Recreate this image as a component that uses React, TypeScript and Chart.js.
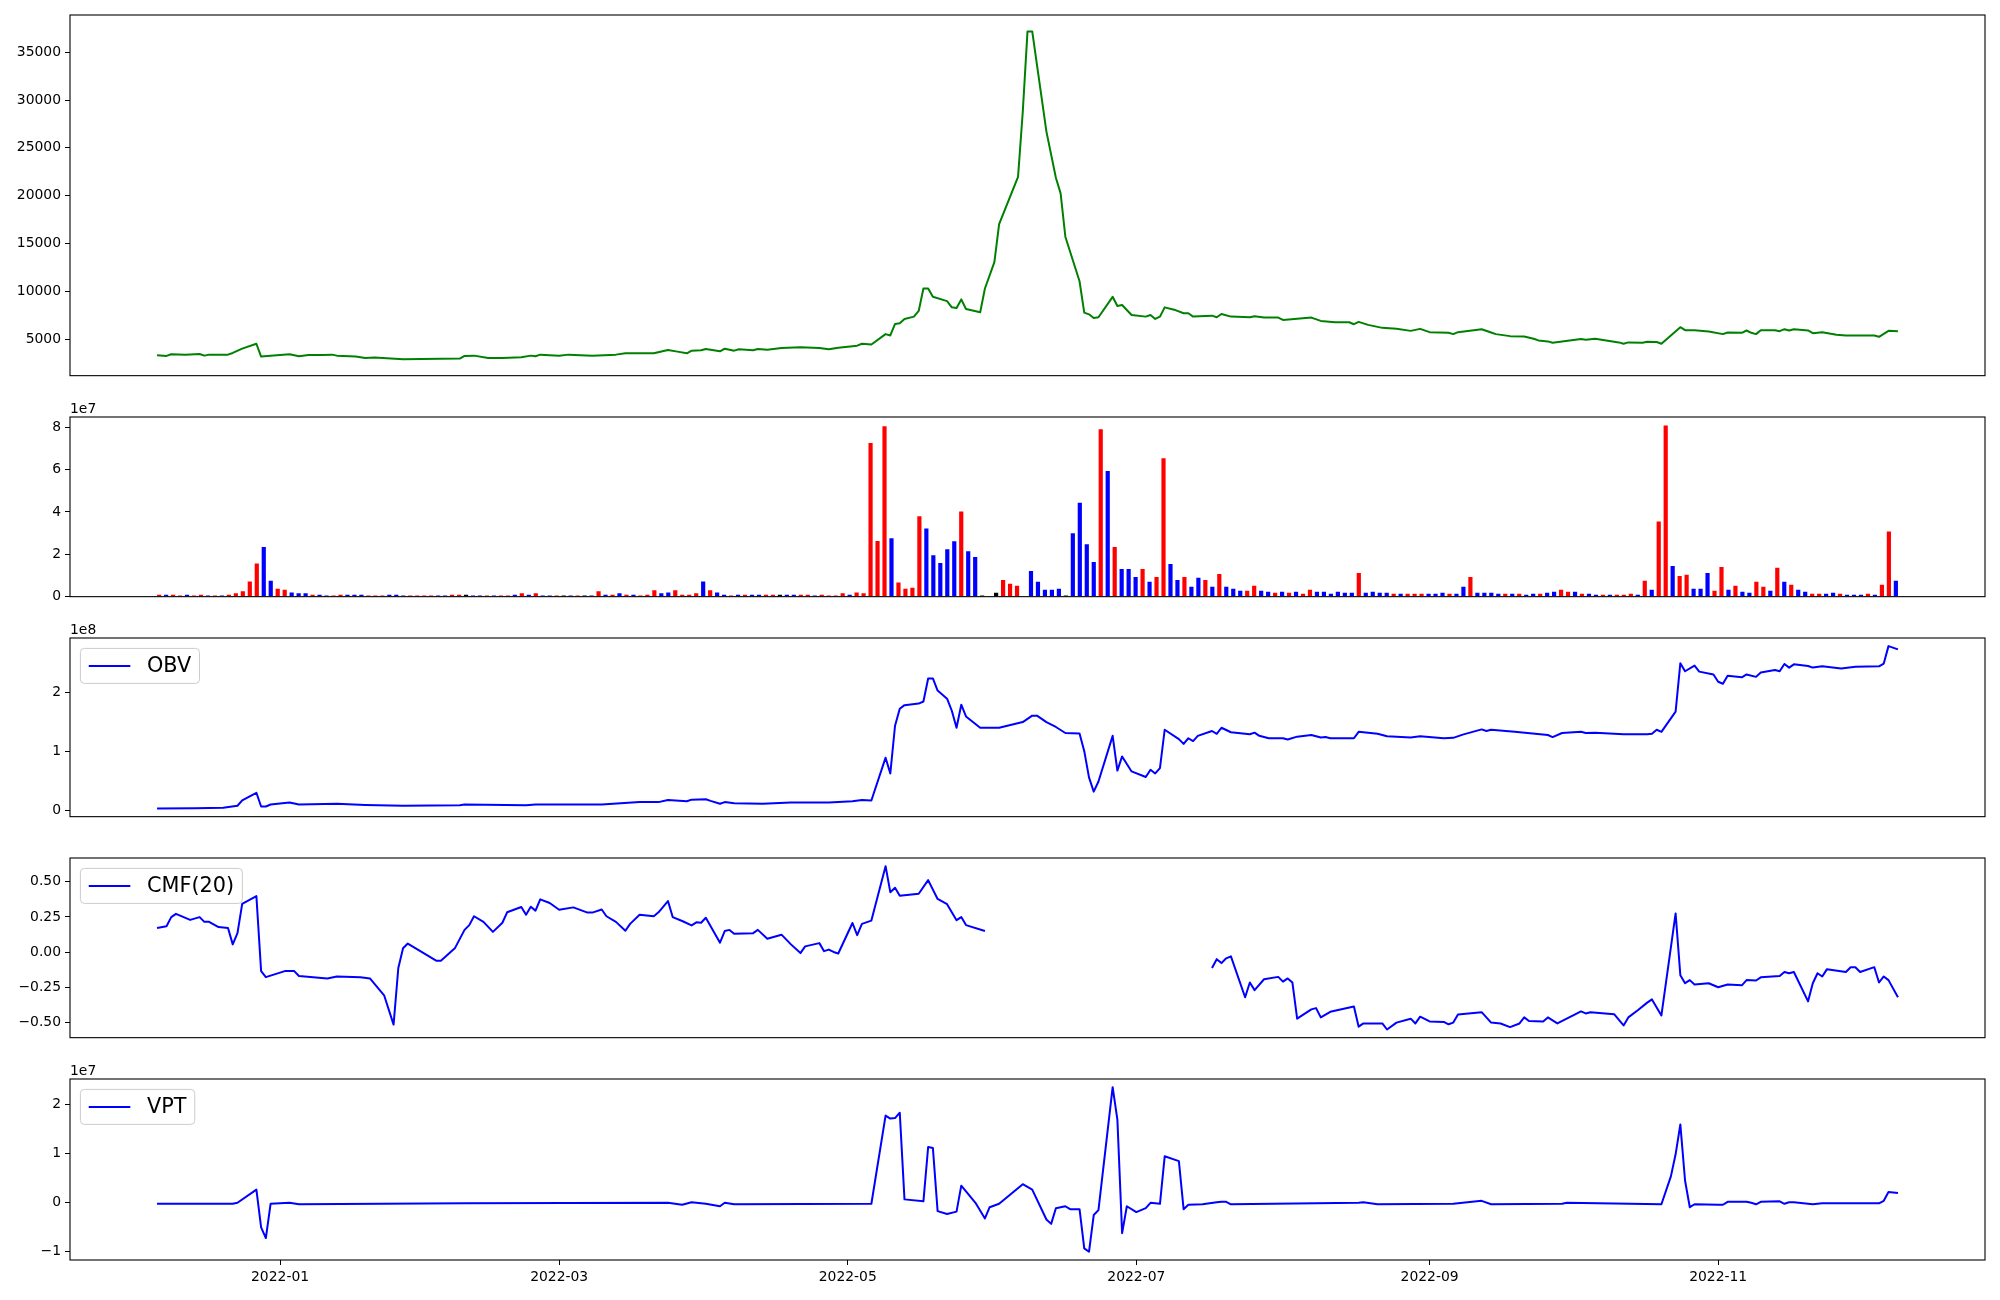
import React, { useEffect, useRef } from 'react';
import { Chart, registerables } from 'chart.js';

Chart.register(...registerables);

// ---------------- data ----------------
// x values of the line panels: days counted from 2022-01-01
const priceDay = [-26,-24,-23,-20,-17,-16,-15,-11,-10,-8,-5,-4,2,4,6,9,11,12,16,18,20,26,38,39,41,44,47,51,53,54,55,59,61,66,71,73,79,82,84,86,87,89,90,93,94,96,97,100,101,103,106,110,114,116,118,122,123,125,128,129,130,131,132,134,135,136,137,138,141,142,143,144,145,148,149,151,152,156,157,158,159,162,164,165,166,169,170,171,172,173,176,177,178,180,183,184,185,186,187,189,191,192,193,197,198,199,201,205,206,208,211,212,218,220,223,226,227,228,230,233,236,239,241,243,247,248,249,254,256,257,260,263,265,266,268,269,275,276,278,282,283,284,285,288,289,291,292,296,297,299,302,305,306,309,310,311,312,313,316,317,318,319,320,323,324,326,329,331,337,338,340,342];
const priceClose = [3310,3240,3410,3375,3445,3270,3375,3375,3550,4000,4515,3170,3410,3200,3340,3340,3375,3270,3170,3030,3065,2890,2960,3240,3270,3030,3030,3100,3270,3200,3375,3270,3375,3270,3375,3515,3515,3860,3690,3515,3790,3825,3960,3720,4000,3790,3930,3825,3960,3895,4065,4135,4065,3930,4100,4310,4515,4440,5520,5380,6590,6660,7110,7350,7940,10290,10290,9420,8975,8320,8250,9150,8145,7800,10290,13050,17030,21970,28780,37180,37180,26700,21870,20240,15710,11050,7765,7590,7210,7280,9420,8455,8560,7520,7350,7520,7110,7350,8320,8075,7700,7700,7350,7450,7280,7630,7350,7280,7380,7250,7250,7000,7250,6900,6760,6760,6555,6800,6485,6175,6070,5860,6070,5725,5655,5520,5725,6035,5690,5520,5310,5275,5035,4860,4760,4620,5000,4930,5035,4725,4655,4515,4655,4620,4725,4690,4515,6245,5935,5935,5795,5520,5690,5655,5900,5655,5520,5935,5935,5830,6035,5900,6035,5900,5620,5725,5450,5380,5380,5240,5865,5830];

// daily volume (millions), one bar per trading session
const volumeMillions = [
0.9,0.9,0.9,0.5,0.9,0.5,0.9,0.5,0.5,0.5,
0.9,1.6,2.5,7.2,15.6,23.5,7.5,3.7,3.3,2.0,
1.6,1.6,0.9,0.9,0.5,0.5,0.9,0.9,0.9,0.9,
0.5,0.5,0.5,0.9,0.9,0.5,0.5,0.5,0.5,0.5,
0.5,0.5,0.9,0.9,0.9,0.5,0.5,0.5,0.5,0.5,
0.5,0.9,1.6,0.9,1.6,0.5,0.5,0.5,0.5,0.5,
0.5,0.5,0.5,2.5,0.9,0.9,1.6,0.9,0.9,0.5,
0.9,3.0,1.6,2.0,3.0,0.9,0.9,1.6,7.2,3.0,
2.0,0.9,0.5,0.9,0.9,0.9,0.9,0.9,0.9,0.9,
0.9,0.9,0.9,0.9,0.5,0.9,0.5,0.5,1.6,0.9,
2.0,1.6,72.6,26.3,80.5,27.6,6.7,3.7,4.2,38.0,
32.2,19.6,15.9,22.4,26.2,40.2,21.5,18.7,0.5,0,
1.9,7.9,6.1,5.1,0,12.1,7.0,3.3,3.3,3.7,
0.5,29.9,44.4,24.8,16.4,79.0,59.3,23.4,13.1,13.1,
9.3,13.1,7.0,9.3,65.4,15.4,7.9,9.3,4.7,8.9,
7.9,4.7,10.7,4.7,3.7,2.8,2.8,5.1,2.8,2.3,
1.9,2.3,1.9,2.3,1.4,3.3,2.3,2.3,1.4,2.3,
1.9,1.9,11.2,1.9,2.3,1.9,1.9,1.4,1.4,1.4,
1.4,1.4,1.4,1.4,1.9,1.4,1.4,4.7,9.3,1.9,
1.9,1.9,1.4,1.4,1.4,1.4,0.9,1.4,1.4,1.9,
2.3,3.3,2.3,2.3,1.4,1.4,0.9,0.9,0.9,0.9,
0.9,1.4,0.9,7.5,3.3,35.5,80.8,14.5,9.8,10.3,
3.7,3.7,11.2,2.8,14.0,3.3,5.1,2.3,1.9,7.0,
4.7,2.8,13.6,7.0,5.6,3.3,2.3,1.4,1.4,1.4,
1.9,1.4,0.9,0.9,0.9,1.4,0.9,5.6,30.8,7.5];
// r = up day, b = down day, k = unchanged
const volumeDirection = (
  'rbrrbrrbrb' + 'rrrrrbbrrb' + 'bbrbbrrbbb' + 'rrrbbbrrrr' + 'bbrrkbbrbr' +
  'rbrbrbbrkb' + 'rkbrbrbrbr' + 'rrbbrrrrbr' + 'bbrbrbbrrk' + 'bbrrbrrrrb' +
  'rrrrrbrrrr' + 'bbbbbrbbkk' + 'krrrkbbbbb' + 'kbbbbrbrbb' + 'brbrrbbrbb' +
  'rbrbbbrrbb' + 'rbrbrrbbbb' + 'bbrbbbbrbr' + 'rrbbbrbbrb' + 'bbbrbrbbrb' +
  'brrbrbbrbr' + 'rrbrbrrbrr' + 'bbbrrbrbbr' + 'rbrbrbbrrb' + 'brbbbrbrrb'
).split('');

// On-balance volume (x 1e8)
const obvDay = [-26,-18,-12,-9,-8,-5,-4,-3,-2,2,4,12,18,26,38,39,52,54,68,72,76,80,82,86,87,90,91,93,94,96,102,108,116,121,123,125,128,129,130,131,132,135,136,137,138,139,141,142,143,144,145,148,152,157,159,160,162,164,166,169,170,171,172,173,176,177,178,180,183,184,185,186,187,190,191,192,193,194,197,198,199,201,205,206,207,209,212,213,215,218,220,221,222,227,228,232,234,239,241,246,248,250,254,255,256,261,268,269,271,275,276,278,284,289,290,291,292,295,296,297,299,300,303,304,305,306,309,310,312,313,316,317,318,319,320,323,324,326,330,333,338,339,340,342];
const obvValue = [0.037,0.044,0.051,0.085,0.174,0.304,0.071,0.071,0.105,0.140,0.105,0.119,0.099,0.085,0.092,0.105,0.092,0.105,0.105,0.126,0.146,0.146,0.181,0.160,0.188,0.194,0.167,0.119,0.146,0.126,0.119,0.140,0.140,0.160,0.181,0.174,0.899,0.632,1.440,1.727,1.789,1.816,1.850,2.241,2.241,2.036,1.899,1.694,1.406,1.796,1.597,1.406,1.406,1.502,1.611,1.611,1.502,1.419,1.317,1.310,1.009,0.564,0.324,0.495,1.269,0.680,0.920,0.666,0.571,0.694,0.632,0.721,1.372,1.214,1.132,1.228,1.180,1.269,1.351,1.303,1.406,1.330,1.296,1.323,1.269,1.228,1.228,1.207,1.255,1.283,1.241,1.248,1.228,1.228,1.337,1.303,1.262,1.241,1.262,1.228,1.235,1.289,1.378,1.351,1.372,1.337,1.283,1.248,1.317,1.337,1.317,1.323,1.296,1.296,1.303,1.372,1.337,1.679,2.500,2.363,2.459,2.357,2.309,2.185,2.151,2.288,2.261,2.309,2.268,2.343,2.384,2.363,2.487,2.425,2.480,2.452,2.425,2.446,2.411,2.439,2.446,2.494,2.789,2.734];

// Chaikin money flow (20); null = no value
const cmfDay = [-26,-24,-23,-22,-19,-17,-16,-15,-13,-11,-10,-9,-8,-5,-4,-3,1,3,4,10,12,17,19,22,24,25,26,27,33,34,37,39,40,41,43,45,47,48,51,52,53,54,55,57,59,62,65,66,68,69,71,73,74,76,79,80,82,83,85,87,88,89,90,93,94,95,96,100,101,103,106,108,110,111,114,115,116,117,118,121,122,123,125,128,129,130,131,135,137,139,141,143,144,145,149,170,197,198,199,200,201,204,205,206,208,211,212,213,214,215,218,219,220,222,227,228,229,233,234,236,239,240,241,243,246,247,248,249,254,256,258,260,262,263,264,267,268,270,275,276,277,282,284,285,287,289,290,292,295,296,297,298,299,302,304,306,309,310,312,313,317,318,319,320,323,324,325,326,327,331,332,333,334,337,338,339,340,342];
const cmfValue = [0.172,0.184,0.249,0.272,0.229,0.249,0.215,0.215,0.178,0.172,0.055,0.135,0.343,0.398,-0.135,-0.178,-0.135,-0.135,-0.170,-0.187,-0.173,-0.178,-0.187,-0.307,-0.515,-0.113,0.027,0.061,-0.061,-0.061,0.030,0.158,0.192,0.255,0.215,0.144,0.209,0.283,0.321,0.266,0.323,0.295,0.375,0.349,0.301,0.318,0.281,0.281,0.303,0.255,0.215,0.152,0.201,0.266,0.255,0.283,0.363,0.249,0.221,0.190,0.212,0.209,0.244,0.067,0.150,0.158,0.130,0.135,0.158,0.095,0.124,0.055,-0.007,0.041,0.064,0.007,0.018,0.001,-0.010,0.207,0.121,0.201,0.224,0.611,0.426,0.458,0.401,0.415,0.512,0.378,0.341,0.227,0.249,0.192,0.150,null,-0.113,-0.050,-0.078,-0.044,-0.030,-0.321,-0.216,-0.270,-0.193,-0.176,-0.210,-0.187,-0.216,-0.473,-0.407,-0.398,-0.464,-0.424,-0.387,-0.530,-0.507,-0.507,-0.550,-0.501,-0.473,-0.507,-0.459,-0.493,-0.496,-0.513,-0.501,-0.444,-0.427,-0.501,-0.507,-0.533,-0.507,-0.464,-0.490,-0.493,-0.464,-0.507,-0.421,-0.436,-0.427,-0.441,-0.521,-0.464,-0.413,-0.359,-0.336,-0.450,0.275,-0.164,-0.221,-0.199,-0.230,-0.221,-0.250,-0.230,-0.236,-0.199,-0.202,-0.179,-0.170,-0.141,-0.150,-0.141,-0.350,-0.221,-0.150,-0.173,-0.121,-0.141,-0.107,-0.107,-0.141,-0.107,-0.216,-0.173,-0.199,-0.321];

// Volume price trend (x 1e7)
const vptDay = [-26,-10,-9,-5,-4,-3,-2,2,4,39,82,85,87,90,93,94,96,125,128,129,130,131,132,136,137,138,139,141,143,144,147,149,150,152,157,159,162,163,164,166,167,169,170,171,172,173,176,177,178,179,181,183,184,186,187,190,191,192,195,198,199,200,201,228,229,232,248,254,256,271,272,292,294,295,296,297,298,299,304,305,306,310,311,312,313,317,318,319,320,324,326,338,339,340,342];
const vptValue = [-0.02,-0.02,0.00,0.27,-0.50,-0.72,-0.02,0.00,-0.03,-0.01,0.00,-0.04,0.01,-0.02,-0.07,0.00,-0.03,-0.02,1.78,1.72,1.73,1.84,0.07,0.03,1.14,1.12,-0.17,-0.23,-0.18,0.35,0.00,-0.32,-0.09,-0.02,0.38,0.27,-0.34,-0.43,-0.11,-0.07,-0.13,-0.13,-0.93,-1.00,-0.25,-0.15,2.36,1.70,-0.62,-0.07,-0.19,-0.11,0.00,-0.02,0.95,0.85,-0.13,-0.04,-0.03,0.01,0.02,0.02,-0.03,0.00,0.01,-0.03,-0.02,0.04,-0.03,-0.02,0.00,-0.03,0.54,0.99,1.60,0.45,-0.09,-0.03,-0.04,-0.04,0.02,0.02,0.00,-0.03,0.02,0.03,-0.02,0.01,0.01,-0.03,-0.01,-0.01,0.04,0.22,0.20];

const monthTickLabels = ['2022-01', '2022-03', '2022-05', '2022-07', '2022-09', '2022-11'];
const priceTicks = [5000, 10000, 15000, 20000, 25000, 30000, 35000];
const volumeTicks = [0, 2e7, 4e7, 6e7, 8e7];
const obvTicks = [0, 1e8, 2e8];
const cmfTicks = [-0.5, -0.25, 0, 0.25, 0.5];
const vptTicks = [-1e7, 0, 1e7, 2e7];

// ---------------- helpers ----------------
const FONT = "'DejaVu Sans', 'Liberation Sans', sans-serif";
Chart.defaults.font.family = FONT;
Chart.defaults.color = '#000';

const ORIGIN = Date.UTC(2022, 0, 1);
const monthTickDays = monthTickLabels.map(
  (s) => (Date.UTC(+s.slice(0, 4), +s.slice(5, 7) - 1, 1) - ORIGIN) / 86400000
);
const uminus = (s: string) => s.replace('-', '\u2212');

const allDays = [...priceDay, ...obvDay, ...cmfDay, ...vptDay];
const dLo = Math.min(...allDays);
const dHi = Math.max(...allDays);
const X_MIN = dLo - (dHi - dLo) * 0.05;
const X_MAX = dHi + (dHi - dLo) * 0.05;

const X_AXIS_H = 32;

function padRange(vals: (number | null)[]): [number, number] {
  const v = vals.filter((x) => x !== null) as number[];
  const lo = Math.min(...v);
  const hi = Math.max(...v);
  const p = (hi - lo) * 0.05;
  return [lo - p, hi + p];
}

const TICK_FONT = { size: 13.9, family: FONT };
const tickGrid = {
  display: true,
  drawOnChartArea: false,
  drawTicks: true,
  tickLength: 5,
  color: '#000',
  lineWidth: 1,
};

function yScale(range: [number, number], ticks: number[], fmt: (v: number) => string) {
  return {
    type: 'linear',
    min: range[0],
    max: range[1],
    afterFit: (s: any) => {
      s.width = 70;
    },
    afterBuildTicks: (s: any) => {
      s.ticks = ticks.map((v) => ({ value: v }));
    },
    ticks: {
      callback: (v: any) => fmt(Number(v)),
      font: TICK_FONT,
      color: '#000',
      padding: 4,
      autoSkip: false,
    },
    grid: tickGrid,
    border: { display: false },
  };
}

function dateScale(show: boolean) {
  return {
    type: 'linear',
    min: X_MIN,
    max: X_MAX,
    display: show,
    afterBuildTicks: (s: any) => {
      s.ticks = monthTickDays.map((v) => ({ value: v }));
    },
    afterFit: (s: any) => {
      s.height = show ? X_AXIS_H : 0;
    },
    ticks: {
      callback: (v: any) => {
        const i = monthTickDays.indexOf(Number(v));
        return i >= 0 ? monthTickLabels[i] : '';
      },
      autoSkip: false,
      maxRotation: 0,
      minRotation: 0,
      padding: 4,
      font: TICK_FONT,
      color: '#000',
    },
    grid: tickGrid,
    border: { display: false },
  };
}

function makeDecor(offsetText: string | null, legendLabel: string | null, legendColor: string) {
  return {
    id: 'decor',
    afterDraw(chart: any) {
      const { ctx, chartArea: a } = chart;
      ctx.save();
      ctx.strokeStyle = '#000';
      ctx.lineWidth = 1.1;
      ctx.strokeRect(a.left, a.top, a.right - a.left, a.bottom - a.top);
      if (offsetText) {
        ctx.font = `13.9px ${FONT}`;
        ctx.fillStyle = '#000';
        ctx.textAlign = 'left';
        ctx.textBaseline = 'alphabetic';
        ctx.fillText(offsetText, a.left, a.top - 4);
      }
      if (legendLabel) {
        const fs = 20.8;
        ctx.font = `${fs}px ${FONT}`;
        const tw = ctx.measureText(legendLabel).width;
        const bp = 0.4 * fs;
        const hl = 2 * fs;
        const htp = 0.8 * fs;
        const x = a.left + 0.5 * fs;
        const y = a.top + 0.5 * fs;
        const w = bp * 2 + hl + htp + tw;
        const h = 35;
        const r = 4;
        ctx.beginPath();
        ctx.moveTo(x + r, y);
        ctx.arcTo(x + w, y, x + w, y + h, r);
        ctx.arcTo(x + w, y + h, x, y + h, r);
        ctx.arcTo(x, y + h, x, y, r);
        ctx.arcTo(x, y, x + w, y, r);
        ctx.closePath();
        ctx.fillStyle = 'rgba(255,255,255,0.8)';
        ctx.fill();
        ctx.strokeStyle = '#cccccc';
        ctx.lineWidth = 1;
        ctx.stroke();
        ctx.beginPath();
        ctx.moveTo(x + bp, y + h / 2);
        ctx.lineTo(x + bp + hl, y + h / 2);
        ctx.strokeStyle = legendColor;
        ctx.lineWidth = 2;
        ctx.stroke();
        ctx.fillStyle = '#000';
        ctx.textAlign = 'left';
        ctx.textBaseline = 'middle';
        ctx.fillText(legendLabel, x + bp + hl + htp, y + h / 2 + 1);
      }
      ctx.restore();
    },
  };
}

function lineConfig(opts: {
  days: number[];
  values: (number | null)[];
  scale: number;
  color: string;
  yTicks: number[];
  fmt: (v: number) => string;
  showX: boolean;
  padTop: number;
  padBottom: number;
  offsetText: string | null;
  legend: string | null;
}) {
  const vals = opts.values.map((v) => (v === null ? null : v * opts.scale));
  return {
    type: 'line',
    data: {
      datasets: [
        {
          data: opts.days.map((d, i) => ({ x: d, y: vals[i] })),
          borderColor: opts.color,
          borderWidth: 2,
          pointRadius: 0,
          tension: 0,
          spanGaps: false,
          fill: false,
          borderJoinStyle: 'round',
        },
      ],
    },
    options: {
      animation: false,
      responsive: false,
      devicePixelRatio: 1,
      events: [],
      layout: { padding: { left: 0, right: 15, top: opts.padTop, bottom: opts.padBottom } },
      plugins: { legend: { display: false }, tooltip: { enabled: false } },
      scales: {
        x: dateScale(opts.showX),
        y: yScale(padRange(vals), opts.yTicks, opts.fmt),
      },
    },
    plugins: [makeDecor(opts.offsetText, opts.legend, opts.color)],
  };
}

function volumeConfig(padTop: number, padBottom: number) {
  const n = volumeMillions.length;
  const w = 0.6;
  const span = n - 1 + w;
  const vols = volumeMillions.map((v) => v * 1e6);
  const colors: Record<string, string> = { r: '#ff0000', b: '#0000ff', k: '#000000' };
  return {
    type: 'bar',
    data: {
      datasets: [
        {
          data: vols.map((v, i) => ({ x: i, y: v })),
          backgroundColor: volumeDirection.map((c) => colors[c]),
          borderWidth: 0,
          barPercentage: w,
          categoryPercentage: 1,
        },
      ],
    },
    options: {
      animation: false,
      responsive: false,
      devicePixelRatio: 1,
      events: [],
      layout: { padding: { left: 0, right: 15, top: padTop, bottom: padBottom } },
      plugins: { legend: { display: false }, tooltip: { enabled: false } },
      scales: {
        x: {
          type: 'linear',
          offset: false,
          display: false,
          min: -w / 2 - span * 0.05,
          max: n - 1 + w / 2 + span * 0.05,
        },
        y: yScale([0, Math.max(...vols) * 1.05], volumeTicks, (v) => String(v / 1e7)),
      },
    },
    plugins: [makeDecor('1e7', null, '#000')],
  };
}

// canvasBottom: total pixels below the plot area inside the canvas
function Panel(props: { top: number; height: number; padTop: number; canvasBottom: number; build: () => any }) {
  const ref = useRef<HTMLCanvasElement>(null);
  const h = props.height + props.padTop + props.canvasBottom;
  useEffect(() => {
    const chart = new Chart(ref.current as HTMLCanvasElement, props.build());
    return () => chart.destroy();
  }, []);
  return (
    <canvas
      ref={ref}
      width={2000}
      height={h}
      style={{ position: 'absolute', left: 0, top: props.top - props.padTop, width: 2000, height: h, display: 'block' }}
    />
  );
}

export default function App() {
  return (
    <div style={{ position: 'absolute', left: 0, top: 0, width: 2000, height: 1300, background: '#fff', overflow: 'hidden' }}>
      <Panel
        top={15}
        height={363}
        padTop={15}
        canvasBottom={10}
        build={() =>
          lineConfig({
            days: priceDay, values: priceClose, scale: 1, color: '#008000', yTicks: priceTicks,
            fmt: (v) => String(v), showX: false, padTop: 15, padBottom: 10, offsetText: null, legend: null,
          })
        }
      />
      <Panel top={417} height={182} padTop={30} canvasBottom={10} build={() => volumeConfig(30, 10)} />
      <Panel
        top={638}
        height={181}
        padTop={30}
        canvasBottom={10}
        build={() =>
          lineConfig({
            days: obvDay, values: obvValue, scale: 1e8, color: '#0000ff', yTicks: obvTicks,
            fmt: (v) => uminus(String(v / 1e8)), showX: false, padTop: 30, padBottom: 10, offsetText: '1e8', legend: 'OBV',
          })
        }
      />
      <Panel
        top={858}
        height={182}
        padTop={30}
        canvasBottom={10}
        build={() =>
          lineConfig({
            days: cmfDay, values: cmfValue, scale: 1, color: '#0000ff', yTicks: cmfTicks,
            fmt: (v) => uminus(v.toFixed(2)), showX: false, padTop: 30, padBottom: 10, offsetText: null, legend: 'CMF(20)',
          })
        }
      />
      <Panel
        top={1079}
        height={181}
        padTop={30}
        canvasBottom={X_AXIS_H + 5}
        build={() =>
          lineConfig({
            days: vptDay, values: vptValue, scale: 1e7, color: '#0000ff', yTicks: vptTicks,
            fmt: (v) => uminus(String(v / 1e7)), showX: true, padTop: 30, padBottom: 5, offsetText: '1e7', legend: 'VPT',
          })
        }
      />
    </div>
  );
}
